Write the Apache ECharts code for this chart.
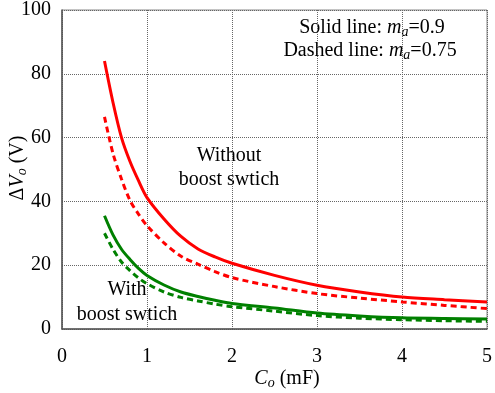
<!DOCTYPE html>
<html>
<head>
<meta charset="utf-8">
<script src="https://cdn.jsdelivr.net/npm/echarts@6/dist/echarts.min.js"></script>
<style>html,body{margin:0;padding:0;background:#fff;}#main{width:495px;height:393px;}</style>
</head>
<body>
<div id="main"></div>
<script>
var capacitance = [0.5,0.6,0.7,0.8,0.9,1,1.2,1.4,1.6,1.8,2,2.5,3,3.5,4,4.5,5];
var withoutSolid  = [84,71,60,52.5,46.5,41.2,34.5,29,25.1,22.6,20.6,16.8,13.7,11.6,10,9.2,8.5];
var withoutDashed = [66.5,55,47,40.3,36,32.4,27,22.8,20.3,18,16.1,13.3,11.1,9.7,8.5,7.4,6.4];
var withSolid     = [35.5,29.5,25,21.8,19,16.8,13.8,11.6,10.2,9,8,6.6,5.0,4.1,3.5,3.3,3.1];
var withDashed    = [30,25,21,18.3,16,14.2,11.6,9.9,8.8,7.8,7.0,5.6,4.2,3.4,2.9,2.6,2.4];
var xTicks = [0,1,2,3,4,5];
var yTicks = [0,20,40,60,80,100];

var FONT = "'Liberation Serif','Times New Roman',serif";
function pairs(ys){ return capacitance.map(function(c,i){ return [c, ys[i]]; }); }
function mk(name, ys, color, dashed){
  return {
    name: name, type: 'line', data: pairs(ys), smooth: 0.3, symbol: 'none',
    lineStyle: {color: color, width: 3, type: dashed ? [6,4] : 'solid'},
    z: dashed ? 3 : 4
  };
}
var chart = echarts.init(document.getElementById('main'));
var sub = {fontFamily: FONT, fontSize: 14, fontStyle: 'italic', color: '#000', padding: [8,0,0,0]};
var ital = {fontFamily: FONT, fontSize: 20, fontStyle: 'italic', color: '#000'};
chart.setOption({
  animation: false,
  grid: {left: 62, right: 5, top: 7, bottom: 64, show: true, borderColor: '#888', borderWidth: 1},
  xAxis: {
    type: 'value', min: xTicks[0], max: xTicks[xTicks.length-1], interval: 1,
    axisLine: {show: true, lineStyle: {color: '#555', width: 1.5}},
    axisTick: {show: false},
    axisLabel: {fontFamily: FONT, fontSize: 20, color: '#000', margin: 18},
    splitLine: {show: true, lineStyle: {color: '#666', type: [1,1], width: 1}}
  },
  yAxis: {
    type: 'value', min: yTicks[0], max: yTicks[yTicks.length-1], interval: 20,
    axisLine: {show: true, lineStyle: {color: '#555', width: 1.5}},
    axisTick: {show: false},
    axisLabel: {fontFamily: FONT, fontSize: 20, color: '#000', margin: 11},
    splitLine: {show: true, lineStyle: {color: '#666', type: [1,1], width: 1}}
  },
  series: [
    mk('Without solid', withoutSolid, '#ff0000', false),
    mk('Without dashed', withoutDashed, '#ff0000', true),
    mk('With solid', withSolid, '#008000', false),
    mk('With dashed', withDashed, '#008000', true)
  ],
  graphic: [
    {type: 'text', x: 18, y: 168, rotation: Math.PI/2,
     style: {text: 'Δ{i|V}{s|o} (V)', rich: {i: ital, s: sub}, fontFamily: FONT, fontSize: 20, fill: '#000', align: 'center', verticalAlign: 'middle'}},
    {type: 'text', x: 287, y: 379,
     style: {text: '{i|C}{s|o} (mF)', rich: {i: ital, s: sub}, fontFamily: FONT, fontSize: 20, fill: '#000', align: 'center', verticalAlign: 'middle'}},
    {type: 'text', x: 372, y: 28,
     style: {text: 'Solid line: {i|m}{s|a}=0.9', rich: {i: ital, s: sub}, fontFamily: FONT, fontSize: 20, fill: '#000', align: 'center', verticalAlign: 'middle'}},
    {type: 'text', x: 370, y: 51,
     style: {text: 'Dashed line: {i|m}{s|a}=0.75', rich: {i: ital, s: sub}, fontFamily: FONT, fontSize: 20, fill: '#000', align: 'center', verticalAlign: 'middle'}},
    {type: 'text', x: 229, y: 156,
     style: {text: 'Without', fontFamily: FONT, fontSize: 20, fill: '#000', align: 'center', verticalAlign: 'middle'}},
    {type: 'text', x: 229, y: 180,
     style: {text: 'boost swtich', fontFamily: FONT, fontSize: 20, fill: '#000', align: 'center', verticalAlign: 'middle'}},
    {type: 'text', x: 127, y: 290,
     style: {text: 'With', fontFamily: FONT, fontSize: 20, fill: '#000', align: 'center', verticalAlign: 'middle'}},
    {type: 'text', x: 127, y: 315,
     style: {text: 'boost swtich', fontFamily: FONT, fontSize: 20, fill: '#000', align: 'center', verticalAlign: 'middle'}}
  ]
});
</script>
</body>
</html>
